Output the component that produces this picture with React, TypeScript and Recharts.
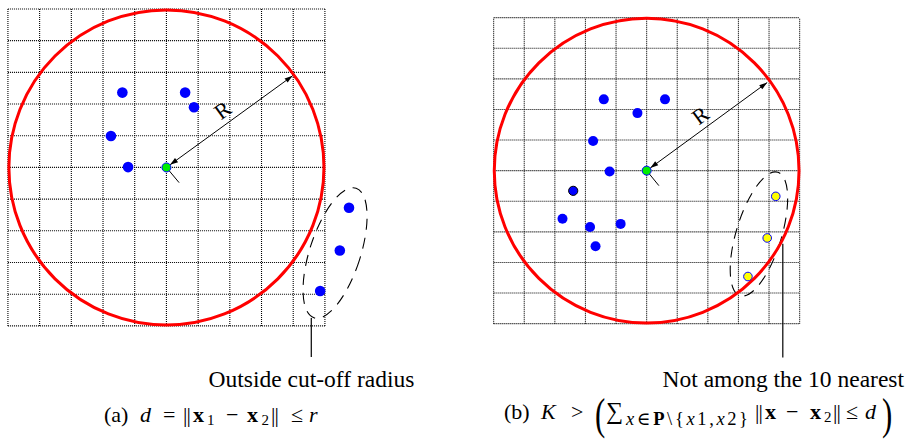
import React from 'react';
import { ScatterChart, Scatter, XAxis, YAxis, ReferenceLine } from 'recharts';

// Both panels are laid out in grid-cell units: the dotted grid spans 0..10 on each axis.
const gridTicks = [0, 1, 2, 3, 4, 5, 6, 7, 8, 9, 10];

// (a) cut-off radius
const aInside = [
  { x: 3.61, y: 7.36 },
  { x: 5.59, y: 7.36 },
  { x: 5.87, y: 6.9 },
  { x: 3.25, y: 5.99 },
  { x: 3.79, y: 5.01 },
];
const aOutside = [
  { x: 10.76, y: 3.73 },
  { x: 10.47, y: 2.38 },
  { x: 9.85, y: 1.1 },
];
const aQuery = [{ x: 5, y: 5 }];
const aRing = [{ x: 5, y: 5, r: 4.97 }];
const aArrow = [{ x: 5, y: 5, x2: 8.98, y2: 7.89 }];
const aRLabel = [{ x: 6.77, y: 6.81, text: 'R', angle: -36 }];
const aTick = [{ x: 5, y: 5 }, { x: 5.4, y: 4.52 }];
const aCluster = [{ x: 10.32, y: 2.3, rx: 0.8, ry: 2.15, tilt: 18 }];
const aLeader = [{ x: 9.57, y: 0.25 }, { x: 9.57, y: -0.98 }];

// (b) K nearest neighbours
const bInside = [
  { x: 3.6, y: 7.33 },
  { x: 5.6, y: 7.33 },
  { x: 4.7, y: 6.88 },
  { x: 3.25, y: 5.97 },
  { x: 3.79, y: 4.97 },
  { x: 2.25, y: 3.43 },
  { x: 3.15, y: 3.16 },
  { x: 4.15, y: 3.26 },
  { x: 3.33, y: 2.53 },
];
const bOutlined = [{ x: 2.6, y: 4.34 }];
const bFar = [
  { x: 9.22, y: 4.16 },
  { x: 8.94, y: 2.8 },
  { x: 8.31, y: 1.54 },
];
const bQuery = [{ x: 5, y: 5 }];
const bRing = [{ x: 5, y: 5, r: 4.98 }];
const bArrow = [{ x: 5, y: 5, x2: 8.94, y2: 7.88 }];
const bRLabel = [{ x: 6.75, y: 6.81, text: 'R', angle: -36 }];
const bTick = [{ x: 5, y: 5 }, { x: 5.4, y: 4.51 }];
const bCluster = [{ x: 8.67, y: 2.93, rx: 0.74, ry: 2.11, tilt: 17 }];
const bLeader = [{ x: 9.45, y: 2.61 }, { x: 9.45, y: -1.11 }];

const X_DOMAIN: [number, number] = [-0.25, 11.75];
const Y_DOMAIN: [number, number] = [-1.25, 10.25];

const SERIF = '"Liberation Serif", "DejaVu Serif", serif';

const dotShape = (r: number, fill: string, stroke?: string) => (p: any) => (
  <circle cx={p.cx} cy={p.cy} r={r} fill={fill} stroke={stroke || 'none'} strokeWidth={stroke ? 1 : 0} />
);

const ringShape = (u: number) => (p: any) => (
  <circle cx={p.cx} cy={p.cy} r={p.payload.r * u} fill="none" stroke="#ff0000" strokeWidth={3} />
);

const clusterShape = (u: number) => (p: any) => (
  <ellipse
    cx={p.cx}
    cy={p.cy}
    rx={p.payload.rx * u}
    ry={p.payload.ry * u}
    transform={`rotate(${p.payload.tilt} ${p.cx} ${p.cy})`}
    fill="none"
    stroke="#000"
    strokeWidth={1.1}
    strokeDasharray="11 8"
  />
);

// double-headed arrow from the query point out to the ring
const arrowShape = (u: number) => (p: any) => {
  const { cx, cy, payload } = p;
  const ex = cx + (payload.x2 - payload.x) * u;
  const ey = cy - (payload.y2 - payload.y) * u;
  const len = Math.hypot(ex - cx, ey - cy);
  const dx = (ex - cx) / len;
  const dy = (ey - cy) / len;
  const sx = cx + dx * 4.5;
  const sy = cy + dy * 4.5;
  const head = (tx: number, ty: number, ux: number, uy: number) => {
    const L = 8;
    const W = 2.6;
    const bx = tx - ux * L;
    const by = ty - uy * L;
    return `${tx},${ty} ${bx - uy * W},${by + ux * W} ${bx + uy * W},${by - ux * W}`;
  };
  return (
    <g>
      <line x1={sx} y1={sy} x2={ex} y2={ey} stroke="#000" strokeWidth={1} />
      <polygon points={head(ex, ey, dx, dy)} fill="#000" />
      <polygon points={head(sx, sy, -dx, -dy)} fill="#000" />
    </g>
  );
};

const labelShape = (p: any) => (
  <text
    x={p.cx}
    y={p.cy}
    transform={`rotate(${p.payload.angle} ${p.cx} ${p.cy})`}
    textAnchor="middle"
    dominantBaseline="central"
    fontFamily={SERIF}
    fontSize={22}
    fill="#000"
  >
    {p.payload.text}
  </text>
);

type PanelProps = {
  left: number;
  top: number;
  unit: number;
  ring: any[];
  cluster: any[];
  arrow: any[];
  rLabel: any[];
  tick: any[];
  leader: any[];
  query: any[];
  inside: any[];
  dotR: number;
  extra?: React.ReactNode;
};

function Panel(props: PanelProps) {
  const u = props.unit;
  const width = (X_DOMAIN[1] - X_DOMAIN[0]) * u;
  const height = (Y_DOMAIN[1] - Y_DOMAIN[0]) * u;
  const left = props.left + X_DOMAIN[0] * u;
  const top = props.top - (Y_DOMAIN[1] - 10) * u;
  return (
    <div style={{ position: 'absolute', left, top, width, height }}>
      <ScatterChart width={width} height={height} margin={{ top: 0, right: 0, bottom: 0, left: 0 }}>
        <XAxis type="number" dataKey="x" domain={X_DOMAIN} allowDataOverflow hide />
        <YAxis type="number" dataKey="y" domain={Y_DOMAIN} allowDataOverflow hide />
        {gridTicks.map((t) => (
          <ReferenceLine
            key={'v' + t}
            segment={[{ x: t, y: 0 }, { x: t, y: 10 }]}
            stroke="#000"
            strokeWidth={1.1}
            strokeDasharray="1 1"
          />
        ))}
        {gridTicks.map((t) => (
          <ReferenceLine
            key={'h' + t}
            segment={[{ x: 0, y: t }, { x: 10, y: t }]}
            stroke="#000"
            strokeWidth={1.1}
            strokeDasharray="1 1"
          />
        ))}
        <ReferenceLine segment={props.tick} stroke="#000" strokeWidth={1} />
        <ReferenceLine segment={props.leader} stroke="#000" strokeWidth={1.2} />
        <Scatter data={props.cluster} shape={clusterShape(u)} isAnimationActive={false} />
        <Scatter data={props.ring} shape={ringShape(u)} isAnimationActive={false} />
        <Scatter data={props.arrow} shape={arrowShape(u)} isAnimationActive={false} />
        <Scatter data={props.rLabel} shape={labelShape} isAnimationActive={false} />
        <Scatter data={props.inside} shape={dotShape(props.dotR, '#0000ff')} isAnimationActive={false} />
        {props.extra}
        <Scatter data={props.query} shape={dotShape(4.5, '#00ee00', '#0000ff')} isAnimationActive={false} />
      </ScatterChart>
    </div>
  );
}

const T = (p: { x: number; y: number; size?: number; italic?: boolean; bold?: boolean; children: React.ReactNode }) => (
  <text
    x={p.x}
    y={p.y}
    fontFamily={SERIF}
    fontSize={p.size || 22}
    fontStyle={p.italic ? 'italic' : 'normal'}
    fontWeight={p.bold ? 'bold' : 'normal'}
    fill="#000"
  >
    {p.children}
  </text>
);

// norm bars drawn as two thin strokes of the serif "|"
const Bars = ({ x, y }: { x: number; y: number }) => (
  <>
    <T x={x} y={y}>|</T>
    <T x={x + 3.5} y={y}>|</T>
  </>
);

export default function App() {
  return (
    <div style={{ position: 'absolute', left: 0, top: 0, width: 907, height: 442, background: '#fff', overflow: 'hidden' }}>
      <Panel
        left={8}
        top={9}
        unit={31.7}
        ring={aRing}
        cluster={aCluster}
        arrow={aArrow}
        rLabel={aRLabel}
        tick={aTick}
        leader={aLeader}
        query={aQuery}
        inside={aInside}
        dotR={5.3}
        extra={<Scatter data={aOutside} shape={dotShape(5.3, '#0000ff')} isAnimationActive={false} />}
      />
      <Panel
        left={494}
        top={17.7}
        unit={30.6}
        ring={bRing}
        cluster={bCluster}
        arrow={bArrow}
        rLabel={bRLabel}
        tick={bTick}
        leader={bLeader}
        query={bQuery}
        inside={bInside}
        dotR={5}
        extra={[
          <Scatter key="o" data={bOutlined} shape={dotShape(4.6, '#0000ff', '#000')} isAnimationActive={false} />,
          <Scatter key="f" data={bFar} shape={dotShape(4.3, '#ffff00', '#0000ff')} isAnimationActive={false} />,
        ]}
      />
      <svg width={907} height={442} style={{ position: 'absolute', left: 0, top: 0, pointerEvents: 'none' }}>
        <text x={311.5} y={387} textAnchor="middle" fontFamily={SERIF} fontSize={23.5} fill="#000">
          Outside cut-off radius
        </text>
        <text x={783.3} y={387} textAnchor="middle" fontFamily={SERIF} fontSize={23.5} fill="#000">
          Not among the 10 nearest
        </text>

        {/* (a) caption */}
        <T x={104} y={422}>(a)</T>
        <T x={140} y={422} italic>d</T>
        <T x={163} y={422}>=</T>
        <Bars x={183} y={422} />
        <T x={193} y={422} bold>x</T>
        <T x={207} y={425} size={15}>1</T>
        <T x={226} y={422}>−</T>
        <T x={247} y={422} bold>x</T>
        <T x={261.5} y={425} size={15}>2</T>
        <Bars x={271} y={422} />
        <T x={291} y={422}>≤</T>
        <T x={309} y={422} italic>r</T>

        {/* (b) caption */}
        <T x={504} y={419}>(b)</T>
        <T x={541} y={419} italic>K</T>
        <T x={571} y={419}>&gt;</T>
        <text transform="translate(595,429) scale(0.7,1)" fontFamily={SERIF} fontSize={44} fill="#000">(</text>
        <T x={606} y={419} size={24}>∑</T>
        <text x={626} y={424.5} fontFamily={SERIF} fontSize={18.5} fill="#000" textLength={122} lengthAdjust="spacing">
          <tspan fontStyle="italic">x</tspan>
          <tspan>∈</tspan>
          <tspan fontWeight="bold">P</tspan>
          <tspan>\{'{'}</tspan>
          <tspan fontStyle="italic">x</tspan>
          <tspan>1,</tspan>
          <tspan fontStyle="italic">x</tspan>
          <tspan>2{'}'}</tspan>
        </text>
        <Bars x={755} y={419} />
        <T x={765} y={419} bold>x</T>
        <T x={786} y={419}>−</T>
        <T x={810} y={419} bold>x</T>
        <T x={824} y={422} size={15}>2</T>
        <Bars x={833} y={419} />
        <T x={846} y={419}>≤</T>
        <T x={865} y={419} italic>d</T>
        <text transform="translate(882,429) scale(0.7,1)" fontFamily={SERIF} fontSize={44} fill="#000">)</text>
      </svg>
    </div>
  );
}
